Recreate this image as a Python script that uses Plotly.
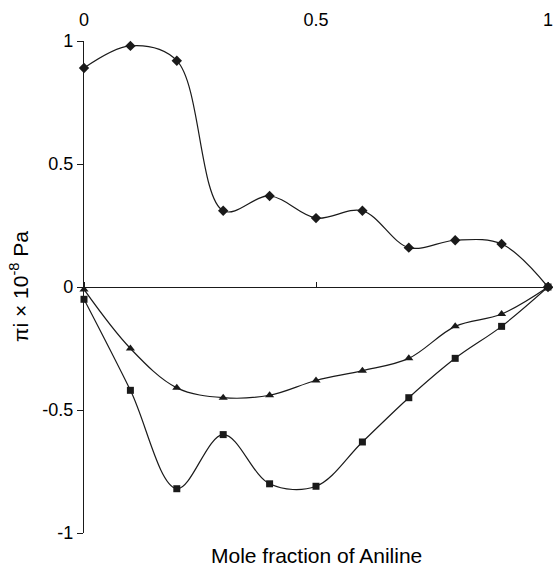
import plotly.graph_objects as go

x_frac = [0, 0.1, 0.2, 0.3, 0.4, 0.5, 0.6, 0.7, 0.8, 0.9, 1.0]
diamond_vals = [0.89, 0.98, 0.92, 0.31, 0.37, 0.28, 0.31, 0.16, 0.19, 0.175, 0.0]
triangle_vals = [-0.01, -0.25, -0.41, -0.45, -0.44, -0.38, -0.34, -0.29, -0.16, -0.11, 0.0]
square_vals = [-0.05, -0.42, -0.82, -0.60, -0.80, -0.81, -0.63, -0.45, -0.29, -0.16, 0.0]

x_ticks = [0, 0.5, 1]
x_tick_labels = ["0", "0.5", "1"]
y_ticks = [1, 0.5, 0, -0.5, -1]
y_tick_labels = ["1", "0.5", "0", "-0.5", "-1"]

col = "#1a1a1a"
font = "Liberation Sans, Arial, sans-serif"

fig = go.Figure()
for vals, sym, sz in [(diamond_vals, "diamond", 8), (triangle_vals, "triangle-up", 8), (square_vals, "square", 7)]:
    fig.add_trace(go.Scatter(
        x=x_frac, y=vals, mode="lines+markers",
        line=dict(color=col, width=1.2, shape="spline", smoothing=1),
        marker=dict(symbol=sym, size=sz, color=col),
        cliponaxis=False, showlegend=False))

# invisible trace for the top tick-label axis
fig.add_trace(go.Scatter(x=[0, 1], y=[0, 0], xaxis="x2", mode="markers",
                         marker=dict(opacity=0), showlegend=False, hoverinfo="skip"))

fig.update_layout(
    width=553, height=570,
    margin=dict(l=84, r=5, t=41, b=37),
    plot_bgcolor="white", paper_bgcolor="white",
    font=dict(family=font, size=18, color="black"),
    xaxis=dict(range=[0, 1], anchor="free", position=0.5, side="top",
               showline=True, linecolor=col, linewidth=1.3,
               tickvals=x_ticks, ticks="outside", ticklen=5, tickcolor=col,
               showticklabels=False, showgrid=False, zeroline=False,
               automargin=False),
    xaxis2=dict(range=[0, 1], overlaying="x", anchor="free", position=1, side="top",
                tickvals=x_ticks, ticktext=x_tick_labels, ticks="",
                showline=False, showgrid=False, zeroline=False,
                automargin=False, ticklabeloverflow="allow", ticklabelstandoff=11,
                tickfont=dict(size=18, family=font, color="black")),
    yaxis=dict(range=[-1, 1], showline=True, linecolor=col, linewidth=1.3,
               tickvals=y_ticks, ticktext=y_tick_labels, ticks="outside",
               ticklen=6, tickcolor=col, showgrid=False, zeroline=False,
               automargin=False, ticklabeloverflow="allow",
               tickfont=dict(size=18, family=font, color="black")),
    annotations=[
        dict(text="Mole fraction of Aniline", xref="paper", yref="paper",
             x=0.5, y=0, yshift=-22, xanchor="center", yanchor="middle",
             showarrow=False, font=dict(size=21, family=font)),
        dict(text="\u03c0i \u00d7 10<sup>-8</sup> Pa", xref="paper", yref="paper",
             x=0, y=0.5, xshift=-65, xanchor="center", yanchor="middle",
             textangle=-90, showarrow=False, font=dict(size=21, family=font)),
    ],
)

fig.write_html(
    "out.html",
    config={"displayModeBar": False},
    post_script="document.body.style.margin='0';document.body.style.overflow='hidden';",
)
